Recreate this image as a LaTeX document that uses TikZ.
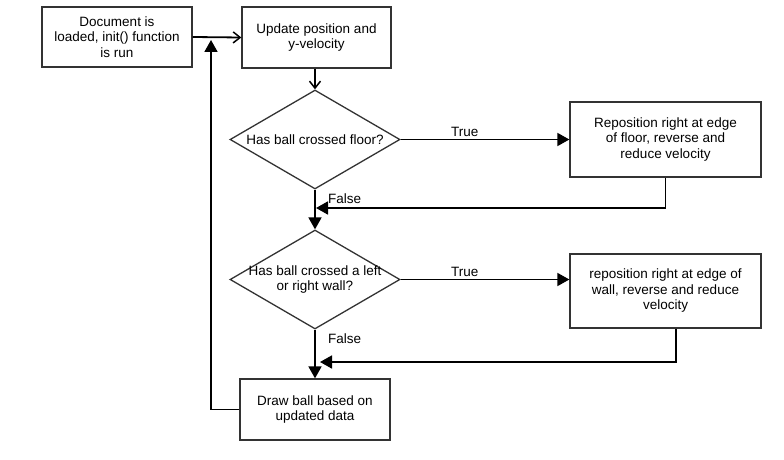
\documentclass[tikz,border=0pt]{standalone}
\usepackage{fontspec}
\setmainfont{Liberation Sans}
\usetikzlibrary{shapes.geometric,arrows.meta}
\begin{document}
\begin{tikzpicture}[x=1pt,y=-1pt,
  every node/.style={font=\fontsize{13.5}{15.5}\selectfont},
  box/.style={draw=black!80,line width=1.3pt,rectangle,align=center,inner sep=0pt},
  dia/.style={draw=black!80,line width=1.3pt,diamond,inner sep=0pt,minimum width=170pt,minimum height=99pt},
  conn/.style={draw=black,line width=1.8pt},
  tri/.style={-{Triangle[length=12pt,width=13pt]}},
  barb/.style={-{Straight Barb[length=7pt,width=11pt,line width=1.5pt]}},
  lbl/.style={inner sep=0pt}]
\useasboundingbox (0,0) rectangle (784,460);
\node[box,minimum width=150pt,minimum height=60pt] (b1) at (117,37) {Document is\\loaded, init() function\\is run};
\node[box,minimum width=149pt,minimum height=61pt] (b2) at (316.5,37.5) {Update position and\\y-velocity};
\node[dia] (d1) at (315,139.5) {};
\node[lbl] (d1t) at (d1.center) {Has ball crossed floor?};
\node[box,minimum width=191pt,minimum height=75pt] (b3) at (665.5,139.5) {Reposition right at edge\\of floor, reverse and\\reduce velocity};
\node[dia] (d2) at (315,279.5) {};
\node[lbl,align=center] (d2t) at (d2.center) {Has ball crossed a left\\or right wall?};
\node[box,minimum width=191pt,minimum height=74pt] (b5) at (665.5,291) {reposition right at edge of\\wall, reverse and reduce\\velocity};
\node[box,minimum width=150pt,minimum height=61pt] (b4) at (315,409.5) {Draw ball based on\\updated data};
\coordinate (m1) at (316,208);
\coordinate (m2) at (320,362);
\coordinate (m3) at (211,40);
\draw[conn,barb] (b1.east) -- (b2.west);
\draw[conn,barb] (b2.south -| d1.north) -- (d1.north);
\draw[conn,tri] (d1.east) -- (d1.east -| b3.west) node[lbl,pos=0.38,above=2pt] (t1) {True};
\draw[conn,tri] (b3.south) |- (m1);
\draw[conn,tri] (d1.south) -- (d2.north);
\node[lbl,anchor=west] (f1) at (328,199) {False};
\draw[conn,tri] (d2.east) -- (d2.east -| b5.west) node[lbl,pos=0.38,above=2pt] (t2) {True};
\draw[conn,tri] ([xshift=10.5pt]b5.south) |- (m2);
\draw[conn,tri] (d2.south) -- (b4.north);
\node[lbl,anchor=west] (f2) at (328,339) {False};
\draw[conn,tri] (b4.west) -| (m3);
\end{tikzpicture}
\end{document}
